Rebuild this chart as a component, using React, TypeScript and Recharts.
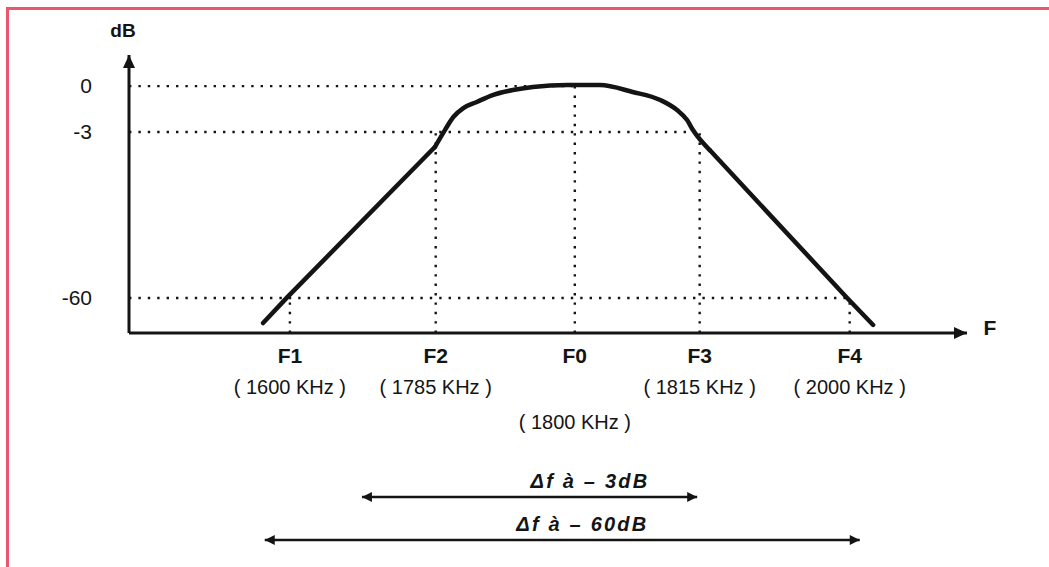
import React from 'react';
import { LineChart, Line, XAxis, YAxis, ReferenceLine, ReferenceDot } from 'recharts';

// Schematic response curve (diagram units: x 0..100 along the F axis, y 0..100 up the dB axis)
const curveX = [16.0, 18.9, 36.5, 37.7, 38.7, 39.9, 41.5, 43.4, 45.8, 48.2, 52.3, 56.2, 60.1, 63.4, 65.4, 66.6, 67.3, 69.3, 85.7, 88.8];
const curveY = [3.6, 12.9, 66.9, 73.0, 77.7, 80.9, 83.1, 85.6, 87.4, 88.5, 89.2, 89.2, 86.7, 83.8, 80.2, 76.6, 73.0, 65.8, 12.6, 2.9];
const curve = curveX.map((x, i) => ({ x, y: curveY[i] }));
// straight flanks and rounded top of the response
const leftFlank = curve.slice(0, 3);
const topPart = curve.slice(2, 18);
const rightFlank = curve.slice(17);

// Frequency marks
const freqNames = ['F1', 'F2', 'F0', 'F3', 'F4'];
const freqValues = ['( 1600 KHz )', '( 1785 KHz )', '( 1800 KHz )', '( 1815 KHz )', '( 2000 KHz )'];
const freqPos = [19.2, 36.6, 53.2, 68.1, 86.0];

// Level marks
const levelLabels = ['0', '-3', '-60'];
const levelPos = [88.8, 72.3, 12.6];

// Which level each frequency reaches (index into levelPos)
const freqLevel = [2, 1, 0, 1, 2];
// Which frequency each level line runs to (index into freqPos)
const levelEnd = [2, 3, 4];

// Bandwidth arrows
const bandLabels = ['Δf à – 3dB', 'Δf à – 60dB'];
const bandFrom = [27.8, 16.2];
const bandTo = [67.8, 87.2];
const bandRow = [-59.0, -74.5];
const bandLabelX = [55.0, 54.1];

const FONT = "'Liberation Sans', Arial, Helvetica, sans-serif";
const INK = '#141414';

const dotted = { stroke: INK, strokeWidth: 2.4, strokeDasharray: '2.4 7' };

const arrowHead = (dir: string, len = 13, half = 6) => (props: any) => {
  const { cx, cy } = props;
  let pts = '';
  if (dir === 'right') pts = `${cx},${cy} ${cx - len},${cy - half} ${cx - len},${cy + half}`;
  if (dir === 'left') pts = `${cx},${cy} ${cx + len},${cy - half} ${cx + len},${cy + half}`;
  if (dir === 'up') pts = `${cx},${cy} ${cx - half},${cy + len} ${cx + half},${cy + len}`;
  return <polygon points={pts} fill={INK} />;
};

const textMark = (text: string, dx: number, dy: number, style: any) => (props: any) => {
  const { cx, cy } = props;
  return (
    <text x={cx + dx} y={cy + dy} textAnchor="middle" fill={INK} fontFamily={FONT} {...style}>
      {text}
    </text>
  );
};

const XTick = (props: any) => {
  const { x, y, payload } = props;
  const i = freqPos.indexOf(payload.value);
  if (i < 0) return null;
  const low = freqNames[i] === 'F0';
  return (
    <g>
      <text x={x} y={y + 30} textAnchor="middle" fontFamily={FONT} fontWeight="bold" fontSize={21} fill={INK}>
        {freqNames[i]}
      </text>
      <text x={x} y={y + (low ? 96 : 61)} textAnchor="middle" fontFamily={FONT} fontSize={20} fill={INK}>
        {freqValues[i]}
      </text>
    </g>
  );
};

const YTick = (props: any) => {
  const { x, y, payload } = props;
  const i = levelPos.indexOf(payload.value);
  if (i < 0) return null;
  return (
    <text x={x} y={y + 7} textAnchor="end" fontFamily={FONT} fontSize={21} fill={INK}>
      {levelLabels[i]}
    </text>
  );
};

const lineStyle = {
  dataKey: 'y',
  stroke: INK,
  strokeWidth: 4.5,
  strokeLinecap: 'round' as const,
  strokeLinejoin: 'round' as const,
  dot: false,
  activeDot: false,
  isAnimationActive: false,
};

export default function App() {
  return (
    <div style={{ position: 'absolute', left: 0, top: 0, width: 1049, height: 567, background: '#fff', overflow: 'hidden' }}>
      <div
        style={{
          position: 'absolute',
          left: 6,
          top: 7,
          width: 1060,
          height: 580,
          borderTop: '3px solid #ea5570',
          borderLeft: '3px solid #ea5570',
          boxSizing: 'border-box',
        }}
      />
      <div style={{ position: 'absolute', left: 0, top: 0 }}>
        <LineChart width={1049} height={567} data={curve} margin={{ top: 55, right: 82, left: 89, bottom: 204 }}>
          <XAxis
            type="number"
            dataKey="x"
            domain={[0, 100]}
            ticks={freqPos}
            interval={0}
            tick={<XTick />}
            tickLine={false}
            tickSize={0}
            tickMargin={0}
            height={30}
            axisLine={{ stroke: INK, strokeWidth: 3 }}
          />
          <YAxis
            type="number"
            domain={[0, 100]}
            ticks={levelPos}
            interval={0}
            tick={<YTick />}
            tickLine={false}
            tickSize={0}
            tickMargin={37}
            width={40}
            axisLine={{ stroke: INK, strokeWidth: 3 }}
          />
          {levelPos.map((lv, i) => (
            <ReferenceLine
              key={'h' + i}
              segment={[{ x: 0, y: lv }, { x: freqPos[levelEnd[i]], y: lv }]}
              {...dotted}
              ifOverflow="visible"
            />
          ))}
          {freqPos.map((f, i) => (
            <ReferenceLine
              key={'v' + i}
              segment={[{ x: f, y: 0 }, { x: f, y: levelPos[freqLevel[i]] }]}
              {...dotted}
              ifOverflow="visible"
            />
          ))}
          <Line {...lineStyle} data={leftFlank} type="linear" />
          <Line {...lineStyle} data={topPart} type="monotone" />
          <Line {...lineStyle} data={rightFlank} type="linear" />
          <ReferenceDot x={100} y={0} r={0} ifOverflow="visible" shape={arrowHead('right')} />
          <ReferenceDot x={0} y={100} r={0} ifOverflow="visible" shape={arrowHead('up')} />
          <ReferenceDot x={0} y={100} r={0} ifOverflow="visible" shape={textMark('dB', -6, -18, { fontSize: 19, fontWeight: 'bold' })} />
          <ReferenceDot x={100} y={0} r={0} ifOverflow="visible" shape={textMark('F', 23, 2, { fontSize: 21, fontWeight: 'bold' })} />
          {bandLabels.map((lab, i) => (
            <React.Fragment key={'b' + i}>
              <ReferenceLine
                segment={[{ x: bandFrom[i], y: bandRow[i] }, { x: bandTo[i], y: bandRow[i] }]}
                stroke={INK}
                strokeWidth={2.5}
                ifOverflow="visible"
              />
              <ReferenceDot x={bandFrom[i]} y={bandRow[i]} r={0} ifOverflow="visible" shape={arrowHead('left', 10, 5)} />
              <ReferenceDot x={bandTo[i]} y={bandRow[i]} r={0} ifOverflow="visible" shape={arrowHead('right', 10, 5)} />
              <ReferenceDot
                x={bandLabelX[i]}
                y={bandRow[i]}
                r={0}
                ifOverflow="visible"
                shape={textMark(lab, 0, -9, { fontSize: 20, fontWeight: 'bold', fontStyle: 'italic', letterSpacing: 2.2 })}
              />
            </React.Fragment>
          ))}
        </LineChart>
      </div>
    </div>
  );
}
